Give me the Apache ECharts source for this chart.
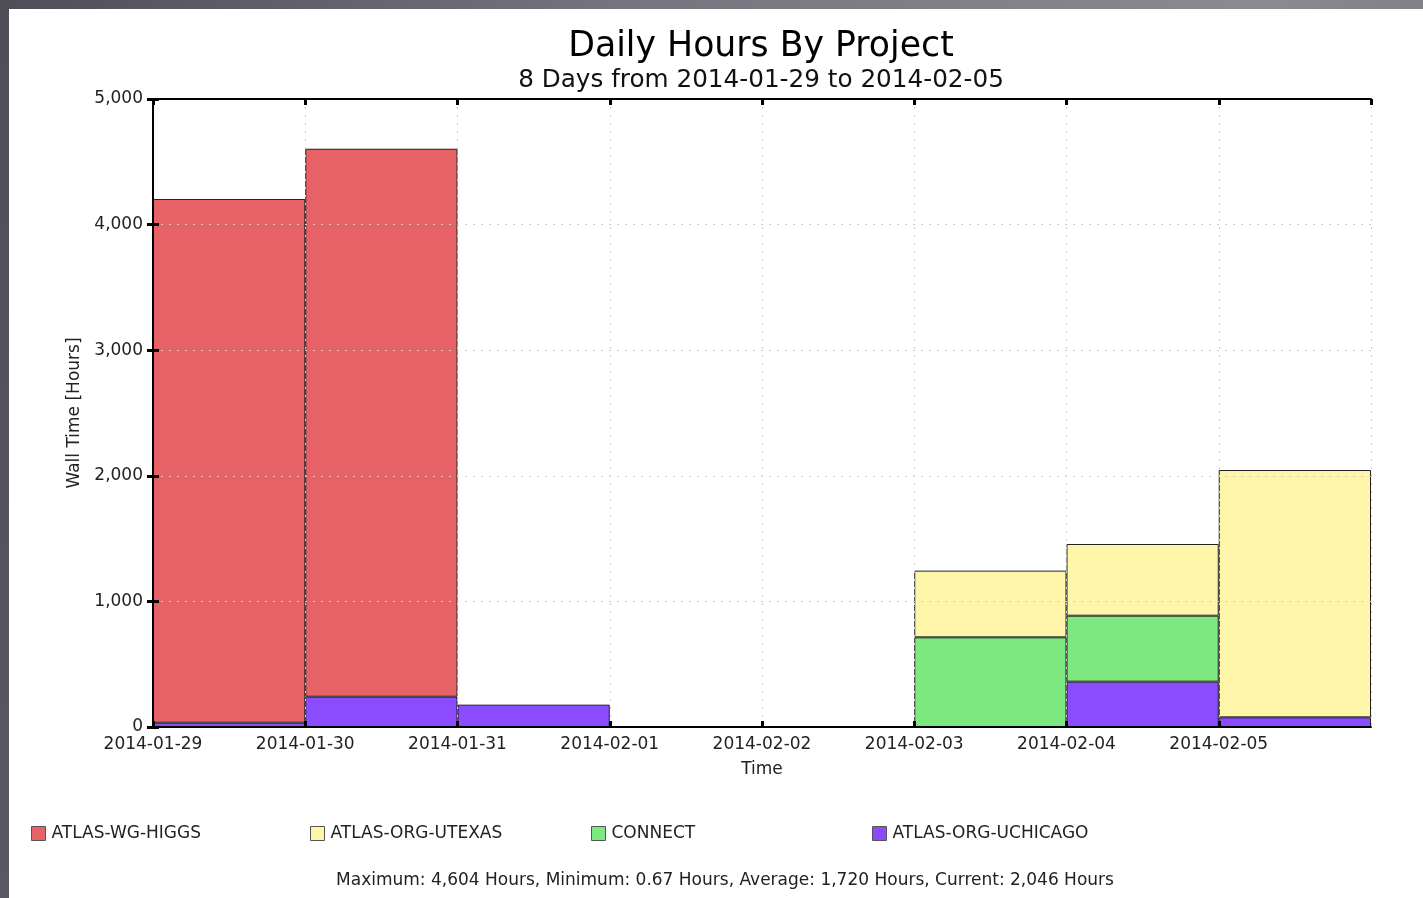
<!DOCTYPE html>
<html>
<head>
<meta charset="utf-8">
<script src="https://cdn.jsdelivr.net/npm/echarts@6/dist/echarts.min.js"></script>
<style>
  html, body { margin: 0; padding: 0; width: 1423px; height: 898px; overflow: hidden; }
  body { background: linear-gradient(100deg, #4e4e58 0%, #75757f 40%, #8a8a90 80%, #777780 100%); position: relative; }
  #paper { position: absolute; left: 9px; top: 9px; right: 0; bottom: 0; background: #ffffff; }
  #chart { position: absolute; left: 0; top: 0; width: 1423px; height: 898px; }
</style>
</head>
<body>
<div id="paper"></div>
<div id="chart"></div>
<script>
// ---- data ----
const days = ['2014-01-29', '2014-01-30', '2014-01-31', '2014-02-01', '2014-02-02', '2014-02-03', '2014-02-04', '2014-02-05'];
const uchicago = [34, 241, 178, 0, 0, 0, 361, 77];
const connect  = [0, 0, 0, 0, 0, 714, 525, 0];
const utexas   = [0, 0, 0, 0, 0, 531, 571, 1969];
const higgs    = [4170, 4363, 0, 0, 0, 0, 0, 0];
const yTicks = [0, 1000, 2000, 3000, 4000, 5000];
const titleText = 'Daily Hours By Project';
const subtitleText = '8 Days from 2014-01-29 to 2014-02-05';
const footerText = 'Maximum: 4,604 Hours, Minimum: 0.67 Hours, Average: 1,720 Hours, Current: 2,046 Hours';

const FONT = 'DejaVu Sans';
const seriesDefs = [
  { name: 'ATLAS-ORG-UCHICAGO', data: uchicago, color: '#8b4bff' },
  { name: 'CONNECT', data: connect, color: '#7de87f' },
  { name: 'ATLAS-ORG-UTEXAS', data: utexas, color: '#fff6a9' },
  { name: 'ATLAS-WG-HIGGS', data: higgs, color: '#e66266' }
];
const legendOrder = ['ATLAS-WG-HIGGS', 'ATLAS-ORG-UTEXAS', 'CONNECT', 'ATLAS-ORG-UCHICAGO'];
const legendLeft = [31, 310, 591, 872];

const fmt = v => String(v).replace(/\B(?=(\d{3})+(?!\d))/g, ',');

const chart = echarts.init(document.getElementById('chart'), null, { renderer: 'canvas' });

const tickStyle = { show: true, inside: true, length: 6, lineStyle: { color: '#000', width: 3 } };
const lineStyle = { show: true, lineStyle: { color: '#000', width: 2 } };
const split = { show: true, lineStyle: { color: '#cccccc', type: [2, 6], width: 1 } };

const option = {
  animation: false,
  backgroundColor: 'transparent',
  textStyle: { fontFamily: FONT },
  grid: { left: 153, right: 52, top: 99, bottom: 171, containLabel: false },
  graphic: [
    { type: 'text', x: 761, y: 47, z: 10, style: { text: titleText, fontFamily: FONT, fontSize: 34.7, fill: '#000', textAlign: 'center', textVerticalAlign: 'middle' } },
    { type: 'text', x: 761, y: 80.5, z: 10, style: { text: subtitleText, fontFamily: FONT, fontSize: 24.7, fill: '#111', textAlign: 'center', textVerticalAlign: 'middle' } },
    { type: 'text', x: 725, y: 881, z: 10, style: { text: footerText, fontFamily: FONT, fontSize: 17, fill: '#222', textAlign: 'center', textVerticalAlign: 'middle' } }
  ],
  legend: legendOrder.map((n, i) => ({
    data: [n], left: legendLeft[i], top: 825, padding: 0, itemWidth: 14, itemHeight: 14, itemGap: 0,
    icon: 'rect', selectedMode: false,
    itemStyle: { borderColor: '#555', borderWidth: 1 },
    textStyle: { fontFamily: FONT, fontSize: 17, color: '#222', padding: [0, 0, 0, 1] }
  })),
  xAxis: [
    { type: 'category', data: days, boundaryGap: true, show: false, gridIndex: 0 },
    {
      type: 'value', min: 0, max: days.length, interval: 1, position: 'bottom', z: 5,
      axisLine: lineStyle, axisTick: tickStyle, splitLine: split,
      axisLabel: { fontFamily: FONT, fontSize: 17, color: '#222', margin: 9, formatter: v => days[v] || '', showMaxLabel: false },
      name: 'Time', nameLocation: 'middle', nameGap: 34,
      nameTextStyle: { fontFamily: FONT, fontSize: 17, color: '#222' }
    },
    {
      type: 'value', min: 0, max: days.length, interval: 1, position: 'top', z: 5,
      axisLine: lineStyle, axisTick: tickStyle, splitLine: { show: false }, axisLabel: { show: false }
    }
  ],
  yAxis: [
    {
      type: 'value', min: yTicks[0], max: yTicks[yTicks.length - 1], interval: 1000, position: 'left', z: 5,
      axisLine: lineStyle, axisTick: tickStyle, splitLine: split,
      axisLabel: { fontFamily: FONT, fontSize: 17, color: '#222', margin: 10, formatter: v => fmt(v) },
      name: 'Wall Time [Hours]', nameLocation: 'middle', nameGap: 68, nameRotate: 90,
      nameTextStyle: { fontFamily: FONT, fontSize: 17, color: '#222' }
    },
    {
      type: 'value', min: yTicks[0], max: yTicks[yTicks.length - 1], interval: 1000, position: 'right', z: 5,
      axisLine: lineStyle, axisTick: tickStyle, splitLine: { show: false }, axisLabel: { show: false }
    }
  ],
  series: seriesDefs.map(s => ({
    name: s.name, type: 'bar', stack: 'total', xAxisIndex: 0, yAxisIndex: 0,
    barCategoryGap: '0%', barGap: '0%',
    data: s.data.map(v => (v === 0 ? '-' : v)),
    itemStyle: { color: s.color, borderColor: '#222', borderWidth: 1 },
    z: 2
  }))
};
chart.setOption(option);
</script>
</body>
</html>
